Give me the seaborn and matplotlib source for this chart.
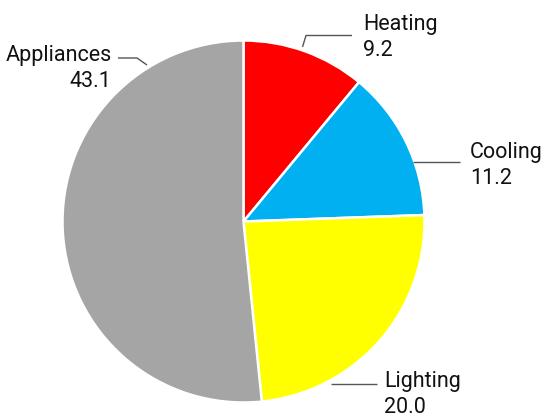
import numpy as np
import matplotlib
matplotlib.use("Agg")
import matplotlib.pyplot as plt
import seaborn as sns

# Energy use by end use
categories = ["Heating", "Cooling", "Lighting", "Appliances"]
values = [9.2, 11.2, 20.0, 43.1]
value_labels = ["9.2", "11.2", "20.0", "43.1"]
colors = ["#FF0000", "#00B0F0", "#FFFF00", "#A5A5A5"]

sns.set_theme(style="white")
plt.rcParams["font.family"] = ["Roboto", "DejaVu Sans"]

W, H = 544, 419
fig = plt.figure(figsize=(W / 100, H / 100), dpi=100)
ax = fig.add_axes([0, 0, 1, 1])

# pixel-style coordinates: y measured from the top of the canvas
def py(y):
    return H - y

cx, cy, r = 243.5, 221.5, 181

ax.pie(values, colors=colors, startangle=90, counterclock=False,
       center=(cx, py(cy)), radius=r,
       wedgeprops=dict(edgecolor="white", linewidth=1.8))
ax.set_xlim(0, W)
ax.set_ylim(0, H)
ax.set_aspect("equal")
ax.axis("off")

line_kw = dict(color="#555555", lw=1.0, solid_capstyle="butt")
text_kw = dict(fontsize=15.5, color="#111111", va="baseline")

# leader lines (pixel coordinates)
leaders = {
    "Heating": [(302.5, 47), (306, 35.5), (352, 35.5)],
    "Cooling": [(413, 162.5), (460, 162.5)],
    "Lighting": [(331, 383.5), (377, 383.5)],
    "Appliances": [(118, 58), (137, 58), (147, 65)],
}
# label anchor: x, first baseline, alignment
anchors = {
    "Heating": (363, 30, "left"),
    "Cooling": (470, 158, "left"),
    "Lighting": (384, 387, "left"),
    "Appliances": (111.5, 61, "right"),
}
line_gap = 26

for name, val in zip(categories, value_labels):
    pts = np.array(leaders[name])
    ax.plot(pts[:, 0], py(pts[:, 1]), **line_kw)
    x, y0, ha = anchors[name]
    ax.text(x, py(y0), name, ha=ha, **text_kw)
    ax.text(x, py(y0 + line_gap), val, ha=ha, **text_kw)

fig.savefig("out.png", dpi=100)
